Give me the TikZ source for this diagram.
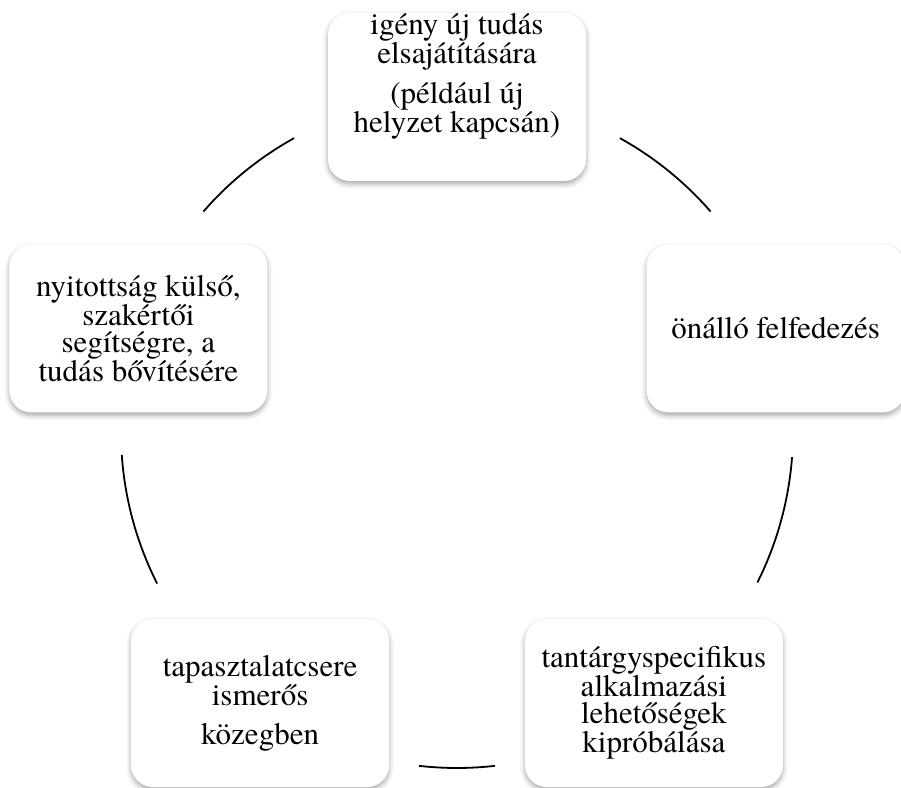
\documentclass[tikz,border=0pt]{standalone}
\usepackage{fontspec}
\setmainfont{TeX Gyre Termes}
\usepackage{tikz}
\usetikzlibrary{shadows, shadows.blur, calc}
\tikzset{
    base/.style={draw=none, align=center, inner sep=4pt, font=\rmfamily\fontsize{31}{27}\selectfont},
    block/.style={base, rectangle, rounded corners=22pt, fill=white, minimum width=258pt, minimum height=168pt,
        blur shadow={shadow xshift=0pt, shadow yshift=-3pt, shadow blur radius=5pt, shadow opacity=35}},
    cycleline/.style={draw=black, line width=1.8pt}
}

\begin{document}
\begin{tikzpicture}[x=1pt, y=1pt]
    \useasboundingbox (-457,-355) rectangle (444,432);
    \coordinate (O) at (0,0);

    \node [block] (need) at (90:335) {};
    \node [base] (needtext) at ([yshift=21pt]need.center) {igény új tudás\\elsajátítására\\[11pt](például új\\helyzet kapcsán)};
    \node [block] (explore) at (18:335) {önálló felfedezés};
    \node [block] (try) at (-54:335) {tantárgyspecifikus\\alkalmazási\\lehetőségek\\kipróbálása};
    \node [block] (share) at (-126:335) {tapasztalatcsere\\ismerős\\[12pt]közegben};
    \node [block] (open) at (162:335) {nyitottság külső,\\szakértői\\segítségre, a\\tudás bővítésére};

    \foreach \a/\b in {61/41, -4.3/-26.6, -83.5/-96.5, 206.8/183.9, 139/119}
        \draw [cycleline] ([shift={(\a:336)}]O) arc [start angle=\a, end angle=\b, radius=336];
\end{tikzpicture}
\end{document}
